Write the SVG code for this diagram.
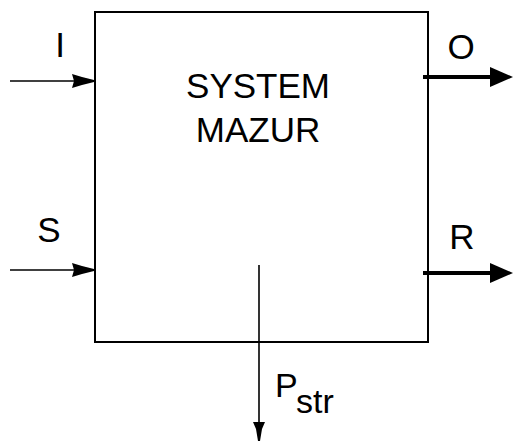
<svg xmlns="http://www.w3.org/2000/svg" width="514" height="441" viewBox="0 0 514 441">
<style>
text{font-family:"Liberation Sans",Arial,sans-serif;fill:#000}
.lbl{font-size:35px}
.thin{stroke:#000;stroke-width:1.6;fill:none}
.thick{stroke:#000;stroke-width:4;fill:none}
</style>
<rect width="514" height="441" fill="#fff"/>
<g id="system">
<rect x="95" y="12" width="333" height="330" fill="none" stroke="#000" stroke-width="2"/>
<text class="lbl" x="258" y="98" text-anchor="middle">SYSTEM</text>
<text class="lbl" x="258" y="142" text-anchor="middle">MAZUR</text>
</g>
<g id="labels">
<text class="lbl" x="60" y="57" text-anchor="middle">I</text>
<text class="lbl" x="49" y="242" text-anchor="middle">S</text>
<text class="lbl" x="461" y="59" text-anchor="middle">O</text>
<text class="lbl" x="462" y="249" text-anchor="middle">R</text>
<text x="275" y="397" font-size="34">P</text>
<text x="296" y="413" font-size="34">str</text>
</g>
<g id="connectors">
<line class="thin" x1="10" y1="81" x2="94" y2="81"/>
<polygon points="72,74 82,77 94,80 94,82 82,85 72,88 74,81"/>
<line class="thin" x1="10" y1="270" x2="94" y2="270"/>
<polygon points="72,263 82,266 94,269 94,271 82,274 72,277 74,270"/>
<line class="thick" x1="423" y1="77" x2="494" y2="77"/>
<polygon points="490,67 513,77 490,87"/>
<line class="thick" x1="423" y1="273" x2="494" y2="273"/>
<polygon points="490,263 513,273 490,283"/>
<line class="thin" x1="259" y1="265" x2="259" y2="428"/>
<polygon points="253,422 265,422 262,429 260,441 258,441 256,429"/>
</g>
</svg>
